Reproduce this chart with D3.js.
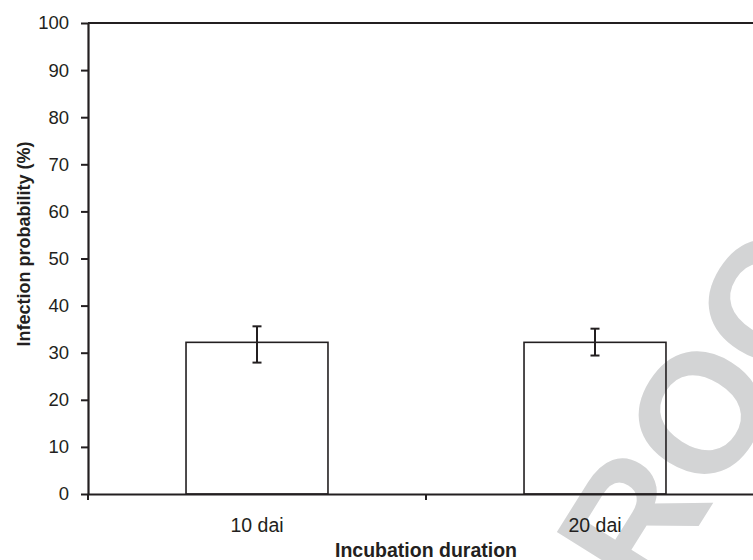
<!DOCTYPE html>
<html>
<head>
<meta charset="utf-8">
<script src="https://cdn.jsdelivr.net/npm/d3@7/dist/d3.min.js"></script>
<style>
  html, body { margin: 0; padding: 0; background: #fff; }
  svg { display: block; }
  text { font-family: "Liberation Sans", Arial, Helvetica, sans-serif; fill: #231f20; }
</style>
</head>
<body>
<svg id="chart" width="753" height="560"></svg>
<script>
const categories = ["10 dai", "20 dai"];
const means = [32.2, 32.2];
const errLow = [27.9, 29.4];
const errHigh = [35.6, 35.1];
const yTicks = [0, 10, 20, 30, 40, 50, 60, 70, 80, 90, 100];

const svg = d3.select("#chart");
const ink = "#231f20";

const x = d3.scaleBand().domain(categories).range([88, 764]).padding(0);
const y = d3.scaleLinear().domain([0, 100]).range([494, 23]);

// watermark
svg.append("text")
  .attr("transform", "translate(590,700) rotate(-58)")
  .attr("font-size", 170)
  .attr("font-weight", "bold")
  .style("fill", "#d3d4d5")
  .text("PROOF");

// bars
const barW = x.bandwidth() * 0.42;
svg.append("g").selectAll("rect").data(categories).join("rect")
  .attr("x", d => x(d) + x.bandwidth() / 2 - barW / 2)
  .attr("y", (d, i) => y(means[i]))
  .attr("width", barW)
  .attr("height", (d, i) => y(0) - y(means[i]))
  .attr("fill", "none")
  .attr("stroke", ink)
  .attr("stroke-width", 1.6);

// error bars
const eb = svg.append("g").attr("stroke", ink).attr("stroke-width", 2);
categories.forEach((c, i) => {
  const cx = x(c) + x.bandwidth() / 2;
  eb.append("line").attr("x1", cx).attr("x2", cx).attr("y1", y(errLow[i])).attr("y2", y(errHigh[i]));
  eb.append("line").attr("x1", cx - 4.5).attr("x2", cx + 4.5).attr("y1", y(errLow[i])).attr("y2", y(errLow[i]));
  eb.append("line").attr("x1", cx - 4.5).attr("x2", cx + 4.5).attr("y1", y(errHigh[i])).attr("y2", y(errHigh[i]));
});

// top frame line
svg.append("line")
  .attr("x1", 88).attr("x2", 764)
  .attr("y1", y(100)).attr("y2", y(100))
  .attr("stroke", ink).attr("stroke-width", 2.2);

// y axis
const yAxis = svg.append("g").attr("transform", "translate(88,0)")
  .call(d3.axisLeft(y).tickValues(yTicks).tickSize(7).tickPadding(12).tickSizeOuter(0));
yAxis.select(".domain").attr("stroke", ink).attr("stroke-width", 2.2);
yAxis.selectAll(".tick line").attr("stroke", ink).attr("stroke-width", 2);
yAxis.selectAll(".tick text").attr("font-size", 18.5).style("font-family", "Liberation Sans, Arial, sans-serif").style("fill", ink);

// x axis
const xAxis = svg.append("g").attr("transform", `translate(0,${y(0)})`)
  .call(d3.axisBottom(x).tickSize(0).tickPadding(24).tickSizeOuter(0));
xAxis.select(".domain").attr("stroke", ink).attr("stroke-width", 2.2);
xAxis.selectAll(".tick text").attr("font-size", 19.5).style("font-family", "Liberation Sans, Arial, sans-serif").style("fill", ink);
// category boundary ticks
const bounds = categories.map(c => x(c)).concat([x.range()[1]]);
xAxis.append("g").selectAll("line").data(bounds).join("line")
  .attr("x1", d => d).attr("x2", d => d)
  .attr("y1", 0).attr("y2", 6)
  .attr("stroke", ink).attr("stroke-width", 2);

// axis titles
svg.append("text")
  .attr("transform", "translate(30,244) rotate(-90)")
  .attr("text-anchor", "middle")
  .attr("font-size", 18)
  .attr("font-weight", "bold")
  .text("Infection probability (%)");

svg.append("text")
  .attr("x", 426).attr("y", 557)
  .attr("text-anchor", "middle")
  .attr("font-size", 19.5)
  .attr("font-weight", "bold")
  .text("Incubation duration");
</script>
</body>
</html>
